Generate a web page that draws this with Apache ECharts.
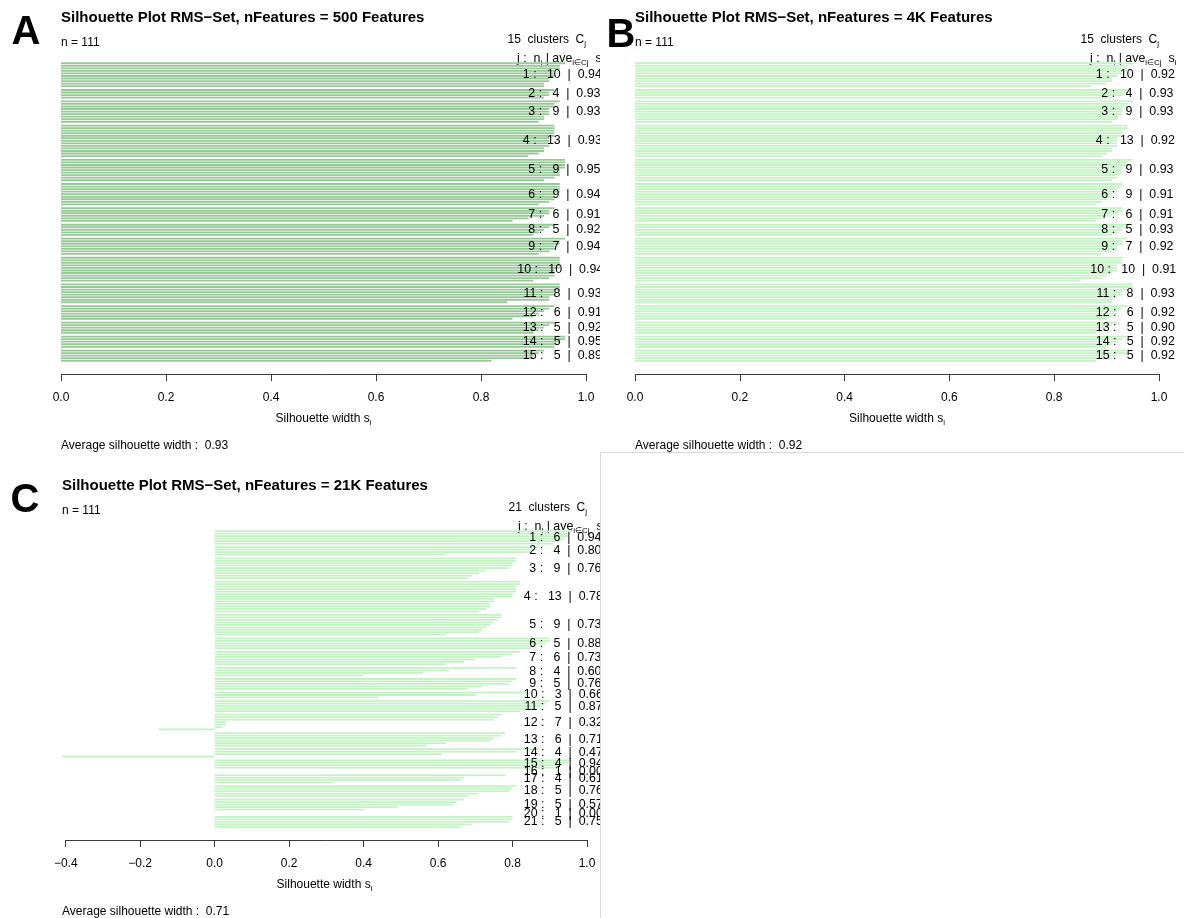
<!DOCTYPE html>
<html>
<head>
<meta charset="utf-8">
<script src="https://cdn.jsdelivr.net/npm/echarts@6/dist/echarts.min.js"></script>
<style>
  html, body { margin: 0; padding: 0; background: #ffffff; }
  #chart { width: 1184px; height: 918px; }
</style>
</head>
<body>
<div id="chart"></div>
<script>
// ---- Silhouette widths s_i, one array per cluster (sorted within cluster) ----
// A: 500 features
const silWidthsA = [
  [0.96, 0.95, 0.95, 0.94, 0.94, 0.94, 0.93, 0.93, 0.92, 0.92],
  [0.94, 0.93, 0.93, 0.92],
  [0.95, 0.94, 0.94, 0.93, 0.93, 0.93, 0.92, 0.92, 0.91],
  [0.94, 0.94, 0.94, 0.94, 0.94, 0.93, 0.93, 0.93, 0.93, 0.92, 0.92, 0.91, 0.89],
  [0.96, 0.96, 0.96, 0.96, 0.95, 0.95, 0.95, 0.94, 0.92],
  [0.95, 0.95, 0.95, 0.95, 0.94, 0.94, 0.94, 0.93, 0.91],
  [0.94, 0.93, 0.93, 0.92, 0.89, 0.86],
  [0.94, 0.93, 0.92, 0.91, 0.90],
  [0.96, 0.95, 0.95, 0.94, 0.94, 0.93, 0.91],
  [0.95, 0.95, 0.95, 0.95, 0.95, 0.94, 0.94, 0.94, 0.93, 0.90],
  [0.95, 0.95, 0.95, 0.94, 0.94, 0.93, 0.93, 0.85],
  [0.94, 0.93, 0.92, 0.91, 0.90, 0.86],
  [0.94, 0.93, 0.92, 0.91, 0.90],
  [0.96, 0.96, 0.95, 0.94, 0.94],
  [0.92, 0.91, 0.90, 0.90, 0.82]
];
const clusterAvgA = [0.94, 0.93, 0.93, 0.93, 0.95, 0.94, 0.91, 0.92, 0.94, 0.94, 0.93, 0.91, 0.92, 0.95, 0.89];

// B: 4K features
const silWidthsB = [
  [0.95, 0.94, 0.94, 0.93, 0.93, 0.92, 0.91, 0.91, 0.90, 0.87],
  [0.94, 0.94, 0.93, 0.91],
  [0.95, 0.94, 0.94, 0.93, 0.93, 0.93, 0.92, 0.92, 0.91],
  [0.94, 0.94, 0.93, 0.93, 0.93, 0.92, 0.92, 0.92, 0.92, 0.91, 0.91, 0.90, 0.89],
  [0.95, 0.94, 0.94, 0.93, 0.93, 0.93, 0.92, 0.92, 0.91],
  [0.93, 0.93, 0.92, 0.92, 0.91, 0.91, 0.90, 0.89, 0.88],
  [0.93, 0.93, 0.92, 0.91, 0.89, 0.88],
  [0.95, 0.94, 0.93, 0.92, 0.91],
  [0.94, 0.93, 0.93, 0.92, 0.92, 0.91, 0.89],
  [0.93, 0.93, 0.93, 0.92, 0.92, 0.92, 0.91, 0.90, 0.89, 0.85],
  [0.95, 0.95, 0.94, 0.93, 0.93, 0.92, 0.91, 0.91],
  [0.94, 0.93, 0.92, 0.92, 0.91, 0.90],
  [0.92, 0.91, 0.90, 0.89, 0.88],
  [0.94, 0.93, 0.92, 0.91, 0.90],
  [0.95, 0.94, 0.92, 0.91, 0.88]
];
const clusterAvgB = [0.92, 0.93, 0.93, 0.92, 0.93, 0.91, 0.91, 0.93, 0.92, 0.91, 0.93, 0.92, 0.90, 0.92, 0.92];

// C: 21K features
const silWidthsC = [
  [0.96, 0.95, 0.95, 0.94, 0.93, 0.91],
  [0.87, 0.86, 0.85, 0.62],
  [0.81, 0.81, 0.80, 0.80, 0.79, 0.73, 0.71, 0.69, 0.68],
  [0.82, 0.82, 0.81, 0.81, 0.81, 0.80, 0.80, 0.75, 0.75, 0.74, 0.74, 0.73, 0.71],
  [0.77, 0.77, 0.76, 0.75, 0.74, 0.73, 0.72, 0.71, 0.62],
  [0.90, 0.90, 0.89, 0.86, 0.85],
  [0.82, 0.80, 0.77, 0.70, 0.67, 0.62],
  [0.81, 0.63, 0.56, 0.40],
  [0.81, 0.80, 0.79, 0.72, 0.68],
  [0.84, 0.70, 0.44],
  [0.90, 0.89, 0.88, 0.86, 0.82],
  [0.77, 0.76, 0.75, 0.03, 0.03, 0.02, -0.15],
  [0.78, 0.77, 0.75, 0.74, 0.62, 0.57],
  [0.87, 0.81, 0.61, -0.41],
  [0.96, 0.95, 0.93, 0.92],
  [0.00],
  [0.78, 0.67, 0.66, 0.32],
  [0.81, 0.80, 0.79, 0.71, 0.68],
  [0.67, 0.65, 0.64, 0.49, 0.40],
  [0.00],
  [0.80, 0.80, 0.79, 0.69, 0.66]
];
const clusterAvgC = [0.94, 0.80, 0.76, 0.78, 0.73, 0.88, 0.73, 0.60, 0.76, 0.66, 0.87, 0.32, 0.71, 0.47, 0.94, 0.00, 0.61, 0.76, 0.57, 0.00, 0.75];

const overallAvg = [0.93, 0.92, 0.71];
const sampleCount = [111, 111, 111];
const panelLetters = ['A', 'B', 'C'];
const panelTitles = [
  'Silhouette Plot RMS\u2212Set, nFeatures = 500 Features',
  'Silhouette Plot RMS\u2212Set, nFeatures = 4K Features',
  'Silhouette Plot RMS\u2212Set, nFeatures = 21K Features'
];
const tickValuesAB = [0, 0.2, 0.4, 0.6, 0.8, 1.0];
const tickValuesC = [-0.4, -0.2, 0, 0.2, 0.4, 0.6, 0.8, 1.0];

// ---- styling / layout ----
const FONT = '"Liberation Sans", Helvetica, Arial, sans-serif';
const LABEL_FONT = '12.4px "Liberation Sans", Helvetica, Arial, sans-serif';
const AXIS_COLOR = '#3a3a3a';
const AXIS_OFFSET = 12;
const panels = [
  { widths: silWidthsA, avgs: clusterAvgA, ticks: tickValuesAB, color: '#97c897',
    grid: { left: 61, top: 62, width: 525, height: 300 }, letterPos: [26, 33] },
  { widths: silWidthsB, avgs: clusterAvgB, ticks: tickValuesAB, color: '#c4f2c4',
    grid: { left: 635, top: 62, width: 524, height: 300 }, letterPos: [621, 36] },
  { widths: silWidthsC, avgs: clusterAvgC, ticks: tickValuesC, color: '#c4f2c4',
    grid: { left: 62, top: 530, width: 525, height: 298 }, letterPos: [25, 501] }
];

// text measurement for the 80%-left / 20%-right anchoring of the cluster labels
const measureCtx = document.createElement('canvas').getContext('2d');
measureCtx.font = LABEL_FONT;
function textWidth(s) { return measureCtx.measureText(s).width; }

// Stack the bars: one unit per observation, half a unit between clusters.
function layoutPanel(widths) {
  const bars = [];
  const mids = [];
  let pos = 0;
  widths.forEach((cl, c) => {
    if (c > 0) pos += 0.5;
    const start = pos;
    cl.forEach(w => { bars.push([w, pos + 0.5]); pos += 1; });
    mids.push((start + pos) / 2);
  });
  return { bars, mids, total: pos };
}

function fmtTick(v) {
  const s = Math.abs(v).toFixed(1);
  return v < -1e-9 ? '\u2212' + s : s;
}

function richStyles(size) {
  return {
    b: { fontFamily: FONT, fontSize: size, color: '#000', lineHeight: 16, verticalAlign: 'middle' },
    s: { fontFamily: FONT, fontSize: Math.round(size * 0.68), color: '#000', lineHeight: 8, verticalAlign: 'bottom' }
  };
}
const subRich = richStyles(12);
const headRich = richStyles(12.4);

const grids = [], xAxes = [], yAxes = [], series = [], graphics = [];

panels.forEach((p, i) => {
  const L = layoutPanel(p.widths);
  const all = p.widths.flat();
  const xmin = Math.min(0, ...all);
  const g = p.grid;

  grids.push({ left: g.left, top: g.top, width: g.width, height: g.height, containLabel: false });

  xAxes.push({
    gridIndex: i, type: 'value', position: 'bottom', min: xmin, max: 1, offset: AXIS_OFFSET,
    axisLine: { show: false, onZero: false },
    axisTick: { show: true, length: 7, customValues: p.ticks, lineStyle: { color: AXIS_COLOR, width: 1 } },
    axisLabel: { customValues: p.ticks, formatter: fmtTick, color: '#000', fontSize: 12, fontFamily: FONT, margin: 18 },
    splitLine: { show: false },
    name: '{b|Silhouette width s}{s|i}', nameLocation: 'middle', nameGap: 37,
    nameTextStyle: { rich: subRich }
  });

  yAxes.push({ gridIndex: i, type: 'value', min: 0, max: L.total, inverse: true, show: false });

  // silhouette bars
  series.push({
    type: 'custom', xAxisIndex: i, yAxisIndex: i, silent: true, animation: false,
    data: L.bars,
    renderItem: (params, api) => {
      const v = api.value(0), y = api.value(1);
      const a = api.coord([0, y - 0.5]);
      const b = api.coord([v, y + 0.5]);
      const unit = Math.abs(b[1] - a[1]);
      return {
        type: 'rect',
        shape: { x: Math.min(a[0], b[0]), y: Math.min(a[1], b[1]) + unit * 0.14,
                 width: Math.abs(b[0] - a[0]), height: unit * 0.72 },
        style: { fill: p.color }
      };
    }
  });

  // axis baseline running from the first to the last tick
  series.push({
    type: 'custom', xAxisIndex: i, yAxisIndex: i, silent: true, animation: false, clip: false,
    data: [[p.ticks[0], p.ticks[p.ticks.length - 1], L.total]],
    renderItem: (params, api) => {
      const a = api.coord([api.value(0), api.value(2)]);
      const b = api.coord([api.value(1), api.value(2)]);
      const y = Math.round(a[1] + AXIS_OFFSET) + 0.5;
      return { type: 'line', shape: { x1: a[0], y1: y, x2: b[0], y2: y },
               style: { stroke: AXIS_COLOR, lineWidth: 1 } };
    }
  });

  // per-cluster summary "j :  n_j | ave s_i", anchored 80% left of x = 1
  series.push({
    type: 'custom', xAxisIndex: i, yAxisIndex: i, silent: true, animation: false, clip: false,
    data: L.mids.map(m => [1, m]),
    renderItem: (params, api) => {
      const c = params.dataIndex;
      const pt = api.coord([api.value(0), api.value(1)]);
      const txt = (c + 1) + ' :   ' + p.widths[c].length + '  |  ' + p.avgs[c].toFixed(2);
      return {
        type: 'text', x: pt[0] - 0.8 * textWidth(txt), y: pt[1],
        style: { text: txt, align: 'left', verticalAlign: 'middle', font: LABEL_FONT, fill: '#000' }
      };
    }
  });

  // panel letter, title and header texts
  graphics.push({ type: 'text', x: p.letterPos[0], y: p.letterPos[1], z: 120,
    style: { text: panelLetters[i], fontSize: 40, fontWeight: 'bold', fontFamily: FONT, fill: '#000',
             align: 'center', verticalAlign: 'middle' } });
  graphics.push({ type: 'text', x: g.left, y: g.top - 44,
    style: { text: panelTitles[i], fontSize: 15, fontWeight: 'bold', fontFamily: FONT, fill: '#000',
             align: 'left', verticalAlign: 'middle' } });
  graphics.push({ type: 'text', x: g.left, y: g.top - 19,
    style: { text: 'n = ' + sampleCount[i], fontSize: 12, fontFamily: FONT, fill: '#000',
             align: 'left', verticalAlign: 'middle' } });
  graphics.push({ type: 'text', x: g.left + g.width, y: g.top - 22,
    style: { text: '{b|' + p.widths.length + '  clusters  C}{s|j}', rich: subRich,
             align: 'right', verticalAlign: 'middle' } });
  graphics.push({ type: 'text', x: g.left + 1.04 * g.width - 3.5, y: g.top - 3,
    style: { text: '{b|j :  n}{s|j}{b| | ave}{s|i\u2208Cj}{b|  s}{s|i}', rich: headRich,
             align: 'right', verticalAlign: 'middle' } });
  graphics.push({ type: 'text', x: g.left, y: g.top + g.height + 84,
    style: { text: 'Average silhouette width :  ' + overallAvg[i].toFixed(2), fontSize: 12, fontFamily: FONT,
             fill: '#000', align: 'left', verticalAlign: 'middle' } });
});

// left-column panels end at x = 600; trim anything spilling past that edge
graphics.push({ type: 'rect', z: 100, shape: { x: 600, y: 30, width: 8, height: 350 },
  style: { fill: '#ffffff' } });
graphics.push({ type: 'rect', z: 100, shape: { x: 600.5, y: 453, width: 14, height: 465 },
  style: { fill: '#ffffff' } });
// faint frame around the empty lower-right area
graphics.push({ type: 'line', z: 110, shape: { x1: 600.5, y1: 452.5, x2: 600.5, y2: 918 },
  style: { stroke: '#d9d9d9', lineWidth: 1 } });
graphics.push({ type: 'line', z: 110, shape: { x1: 600.5, y1: 452.5, x2: 1184, y2: 452.5 },
  style: { stroke: '#d9d9d9', lineWidth: 1 } });

const chart = echarts.init(document.getElementById('chart'), null, { renderer: 'canvas' });
chart.setOption({
  backgroundColor: '#ffffff',
  animation: false,
  grid: grids,
  xAxis: xAxes,
  yAxis: yAxes,
  series: series,
  graphic: graphics
});
</script>
</body>
</html>
